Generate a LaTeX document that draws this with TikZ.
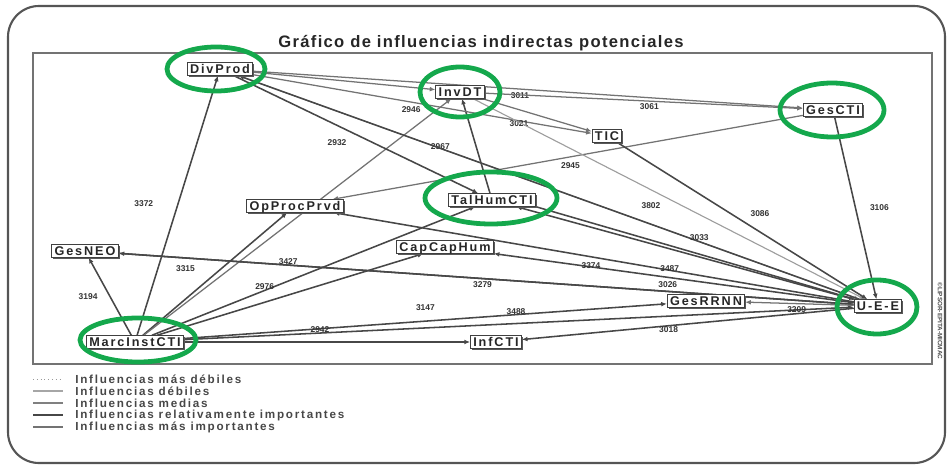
\documentclass[tikz,border=0pt]{standalone}
\usepackage{fontspec}
\setmainfont{Liberation Sans}
\newfontfamily\varfont[LetterSpace=15]{Liberation Sans}
\newfontfamily\titlefont[LetterSpace=8]{Liberation Sans}
\usetikzlibrary{arrows.meta,shadows,backgrounds}
\definecolor{hlgreen}{HTML}{14A84C}
\definecolor{framegray}{HTML}{555555}

\begin{document}
\begin{tikzpicture}[x=0.025cm, y=-0.025cm,
    var/.style={draw=black!75, fill=white, line width=0.6pt, text=black!85,
                font=\varfont\fontsize{9}{9}\selectfont\bfseries,
                inner xsep=2pt, inner ysep=1pt, text height=6.3pt, text depth=0.6pt,
                drop shadow={shadow xshift=1pt, shadow yshift=-1pt, fill=black!65, opacity=1}},
    lbl/.style={font=\fontsize{6}{6}\selectfont\bfseries, text=black!80, inner sep=0.5pt},
    rel/.style={draw=black!72, line width=1.1pt, -{Latex[length=4pt,width=3.4pt]}},
    med/.style={draw=black!55, line width=0.9pt, -{Latex[length=4pt,width=3.4pt]}},
    deb/.style={draw=black!38, line width=0.8pt, -{Latex[length=4pt,width=3.4pt]}},
    hl/.style={draw=hlgreen, line width=3.4pt},
    legtxt/.style={font=\varfont\fontsize{8.3}{8.3}\selectfont\bfseries, text=black!72, inner sep=0pt},
  ]
  \useasboundingbox (0,0) rectangle (947,466);

  % frames
  \draw[framegray, line width=1.5pt, rounded corners=22pt] (8,6) rectangle (945,463);
  \draw[black!55, line width=1.2pt] (33,53) rectangle (932,364);
  \node[font=\titlefont\fontsize{11.8}{11.8}\selectfont\bfseries, text=black!85] (title) at (481,43)
    {Gráfico de influencias indirectas potenciales};
  \node[rotate=-90, font=\fontsize{4.5}{4.5}\selectfont\bfseries, text=black!70] (copy) at (940,321)
    {©LIPSOR-EPITA-MICMAC};

  % variables
  \node[var] (divprod) at (220,69)  {DivProd};
  \node[var] (invdt)   at (460,92)  {InvDT};
  \node[var] (gescti)  at (833,110) {GesCTI};
  \node[var] (tic)     at (607,136) {TIC};
  \node[var] (talhum)  at (492,200) {TalHumCTI};
  \node[var] (opproc)  at (295,206) {OpProcPrvd};
  \node[var] (capcap)  at (445,247) {CapCapHum};
  \node[var] (gesneo)  at (85,251)  {GesNEO};
  \node[var] (marc)    at (135,342) {MarcInstCTI};
  \node[var] (infcti)  at (496,342) {InfCTI};
  \node[var] (gesrrnn) at (706,301) {GesRRNN};
  \node[var] (uee)     at (878,306) {U-E-E};

  % influences
  \begin{scope}[on background layer]
    \draw[rel] (marc) -- (divprod) node[lbl, pos=.5, xshift=-24pt, yshift=1pt] {3372};
    \draw[rel] (marc) -- (gesneo)  node[lbl, pos=.5, xshift=-15.6pt] {3194};
    \draw[rel] (marc) -- (opproc)  node[lbl, pos=.5, xshift=-21pt, yshift=4pt] {3315};
    \draw[med] (marc) -- (invdt);
    \draw[rel] (marc) -- (talhum)  node[lbl, pos=.5, xshift=-18pt, yshift=6.8pt] {3427};
    \draw[rel] (marc) -- (capcap)  node[lbl, pos=.5, xshift=-18pt, yshift=5.3pt] {2976};
    \draw[rel] (marc) -- (gesrrnn) node[lbl, pos=.5, yshift=9.5pt] {3147};
    \draw[rel] (marc) -- (uee)     node[lbl, pos=.5, xshift=-2pt, yshift=8.2pt] {3488};
    \draw[rel] (marc) -- (infcti)  node[lbl, pos=.5, xshift=-5pt, yshift=8.5pt] {2942};

    \draw[rel] (divprod) -- (talhum) node[lbl, pos=.5, xshift=-13.5pt, yshift=-5.7pt] {2932};
    \draw[rel] (talhum) -- (invdt);
    \draw[med] (divprod) -- (invdt);
    \draw[med] (divprod) -- (gescti) node[lbl, pos=.5, xshift=-5.7pt, yshift=-4.5pt] {3011};
    \draw[med] (invdt) -- (gescti)   node[lbl, pos=.5, xshift=4pt, yshift=-4.4pt] {3061};
    \draw[med] (divprod) -- (tic)    node[lbl, pos=.5, xshift=-8pt, yshift=-4.3pt] {2946};
    \draw[med] (invdt) -- (tic)      node[lbl, pos=.5, xshift=-12.8pt, yshift=-6pt] {3021};
    \draw[med] (gescti) -- (opproc)  node[lbl, pos=.5, xshift=2pt, yshift=-5.7pt] {2945};

    \draw[deb] (divprod) -- (uee) node[lbl, pos=.325, yshift=1pt] {2967};
    \draw[rel] (uee) -- (divprod) node[lbl, pos=.258, yshift=3pt] {3033};
    \draw[deb] (invdt) -- (uee)   node[lbl, pos=.454, yshift=-11pt] {3802};
    \draw[rel] (tic) -- (uee)     node[lbl, pos=.57, yshift=12.8pt] {3086};
    \draw[rel] (gescti) -- (uee)  node[lbl, pos=.5, xshift=17pt] {3106};
    \draw[rel] (talhum.south east) -- (uee);
    \draw[rel] (uee) -- (talhum);

    \draw[rel] (uee) -- (opproc)  node[lbl, pos=.354, yshift=1.5pt] {3487};
    \draw[rel] (uee) -- (capcap)  node[lbl, pos=.73, yshift=1pt] {3374};
    \draw[rel] (uee) -- (gesneo)  node[lbl, pos=.505, yshift=-4.5pt] {3279};
    \draw[rel] (gesneo) -- (uee)  node[lbl, pos=.747, yshift=4.5pt] {3026};
    \draw[med] (uee) -- (gesrrnn) node[lbl, pos=.5, xshift=-2pt, yshift=-4.3pt] {3209};
    \draw[rel] (uee) -- (infcti)  node[lbl, pos=.558, yshift=-3pt] {3018};
  \end{scope}

  % green highlights
  \draw[hl] (216,69)  ellipse [x radius=49, y radius=22];
  \draw[hl] (460,92)  ellipse [x radius=40, y radius=25];
  \draw[hl] (832,110) ellipse [x radius=52, y radius=27];
  \draw[hl] (491,198) ellipse [x radius=66, y radius=26];
  \draw[hl] (138,340) ellipse [x radius=58, y radius=22];
  \draw[hl] (877,307) ellipse [x radius=40, y radius=27];

  % legend
  \tikzset{
    lgA/.style={draw=black!40, line width=0.7pt, dotted},
    lgB/.style={draw=black!35, line width=0.8pt},
    lgC/.style={draw=black!50, line width=1pt},
    lgD/.style={draw=black!72, line width=1.4pt},
    lgE/.style={draw=black!55, line width=1.4pt},
  }
  \foreach \ly/\ls/\lt [count=\i] in {379/lgA/Influencias más débiles,
      391/lgB/Influencias débiles, 403/lgC/Influencias medias,
      415/lgD/Influencias relativamente importantes, 427/lgE/Influencias más importantes} {
    \draw[\ls] (33,\ly) -- (63,\ly);
    \node[legtxt, anchor=west] (leg\i) at (75,\ly) {\lt};
  }
\end{tikzpicture}
\end{document}
